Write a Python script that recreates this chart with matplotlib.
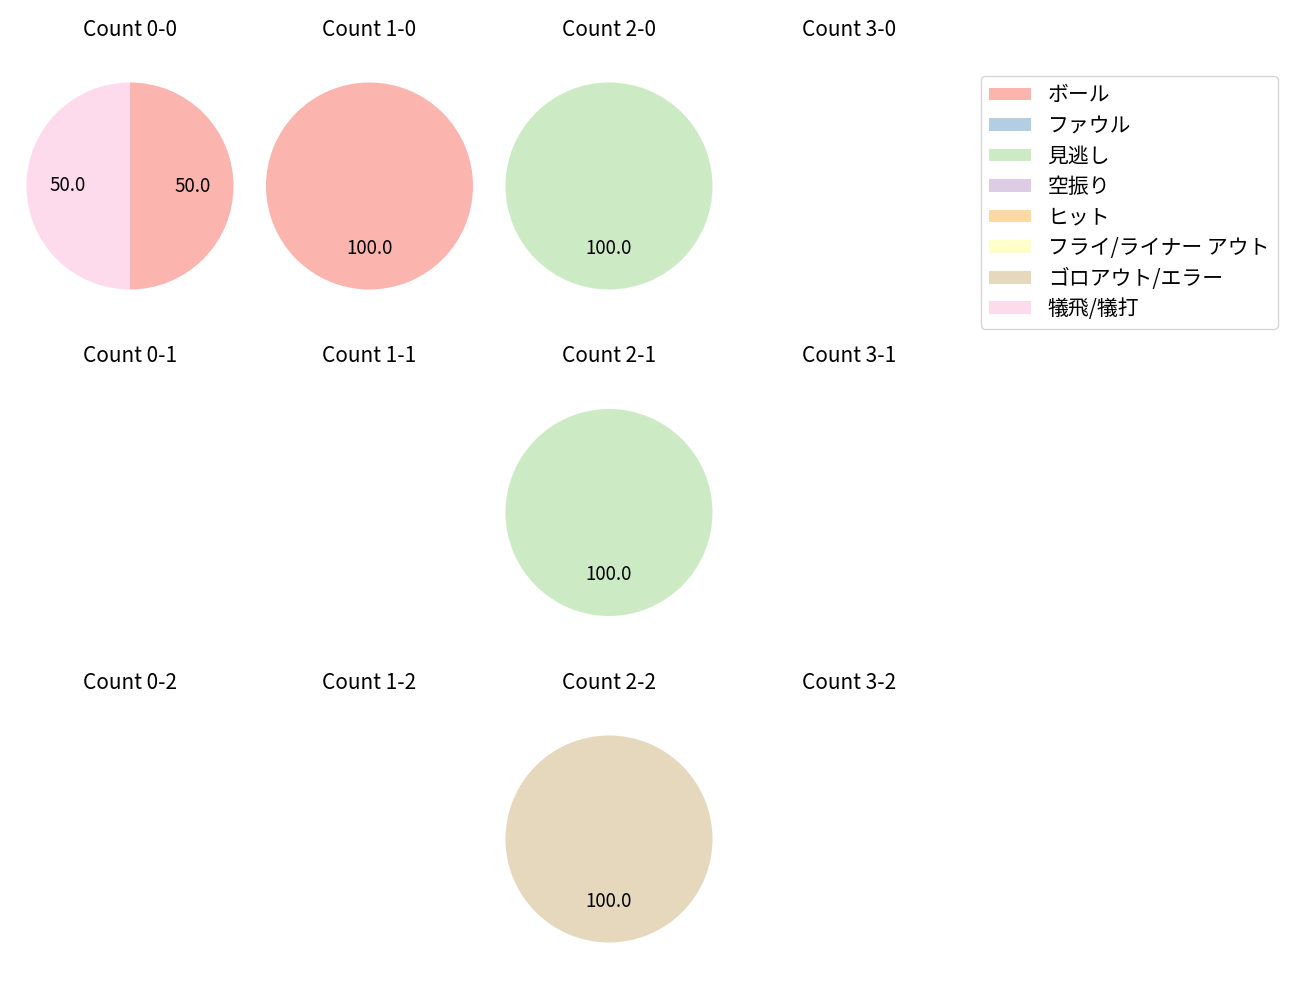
import matplotlib
matplotlib.use("Agg")
import matplotlib.pyplot as plt
from matplotlib.patches import Patch

plt.rcParams['font.family'] = ['Noto Sans CJK JP', 'DejaVu Sans']

categories = ["ボール", "ファウル", "見逃し", "空振り", "ヒット",
              "フライ/ライナー アウト", "ゴロアウト/エラー", "犠飛/犠打"]
colors = ['#fbb4ae', '#b3cde3', '#ccebc5', '#decbe4',
          '#fed9a6', '#ffffcc', '#e5d8bd', '#fddaec']

balls = [0, 1, 2, 3]
strikes = [0, 1, 2]

# values per count, in category order
v_0_0 = [1, 0, 0, 0, 0, 0, 0, 1]
v_1_0 = [1, 0, 0, 0, 0, 0, 0, 0]
v_2_0 = [0, 0, 1, 0, 0, 0, 0, 0]
v_3_0 = [0, 0, 0, 0, 0, 0, 0, 0]
v_0_1 = [0, 0, 0, 0, 0, 0, 0, 0]
v_1_1 = [0, 0, 0, 0, 0, 0, 0, 0]
v_2_1 = [0, 0, 1, 0, 0, 0, 0, 0]
v_3_1 = [0, 0, 0, 0, 0, 0, 0, 0]
v_0_2 = [0, 0, 0, 0, 0, 0, 0, 0]
v_1_2 = [0, 0, 0, 0, 0, 0, 0, 0]
v_2_2 = [0, 0, 0, 0, 0, 0, 1, 0]
v_3_2 = [0, 0, 0, 0, 0, 0, 0, 0]

values = {
    (0, 0): v_0_0, (1, 0): v_1_0, (2, 0): v_2_0, (3, 0): v_3_0,
    (0, 1): v_0_1, (1, 1): v_1_1, (2, 1): v_2_1, (3, 1): v_3_1,
    (0, 2): v_0_2, (1, 2): v_1_2, (2, 2): v_2_2, (3, 2): v_3_2,
}

W, H = 1300, 1000
fig = plt.figure(figsize=(13, 10), dpi=100)

cx = [130, 369.5, 609, 849]
cy = [186, 512.5, 839]
R = 103.5
S = 2.5 * R

for s in strikes:
    for b in balls:
        x0 = (cx[b] - S / 2) / W
        y0 = 1 - (cy[s] + S / 2) / H
        ax = fig.add_axes([x0, y0, S / W, S / H])
        vals = values[(b, s)]
        sel = [i for i, v in enumerate(vals) if v > 0]
        if sel:
            ax.pie([vals[i] for i in sel], colors=[colors[i] for i in sel],
                   startangle=90, counterclock=False, autopct='%.1f',
                   pctdistance=0.6, textprops={'fontsize': 13.5})
        ax.set_xlim(-1.25, 1.25)
        ax.set_ylim(-1.25, 1.25)
        ax.set_aspect('equal')
        ax.axis('off')
        ax.set_title(f"Count {b}-{s}", fontsize=15, pad=15)

handles = [Patch(facecolor=c, label=l) for c, l in zip(colors, categories)]
fig.legend(handles=handles, loc='upper left',
           bbox_to_anchor=(981 / W, 1 - 76 / H), borderaxespad=0,
           fontsize=15, handlelength=2.0, handleheight=0.56,
           labelspacing=0.41)

fig.savefig("out.png", dpi=100)
